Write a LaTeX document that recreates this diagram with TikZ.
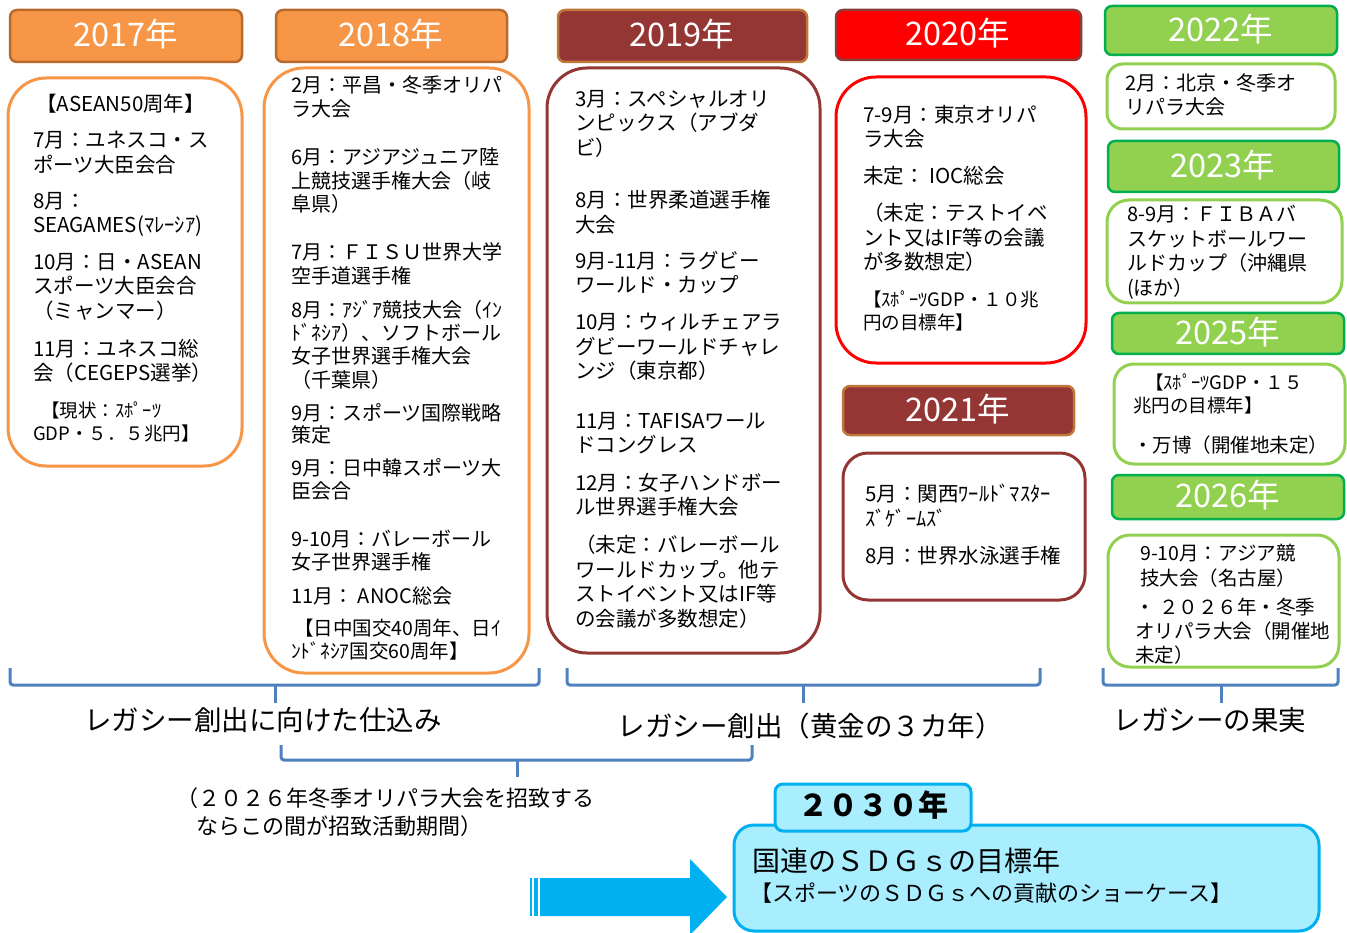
\documentclass[tikz,border=0pt]{standalone}
\usepackage{fontspec}
\setmainfont{Noto Sans CJK JP}
\definecolor{orfill}{HTML}{F79646}
\definecolor{orborder}{HTML}{B86A2D}
\definecolor{dkred}{HTML}{943634}
\definecolor{brnborder}{HTML}{C0783A}
\definecolor{redborder}{HTML}{8C3A3A}
\definecolor{grfill}{HTML}{92D050}
\definecolor{grborder}{HTML}{00B050}
\definecolor{braceblue}{HTML}{4F81BD}
\definecolor{cyanfill}{HTML}{A8EEFF}
\definecolor{cyanline}{HTML}{00B0F0}
\begin{document}
\begin{tikzpicture}[x=1pt,y=-1pt,
  hdr/.style={line width=2.5pt,rounded corners=7pt},
  hdrtext/.style={text=white,inner sep=0pt,font=\fontsize{32.5}{34}\selectfont},
  cbox/.style={line width=3pt,fill=white},
  txt/.style={anchor=north west,align=left,inner sep=0pt,text=black,font=\fontsize{20.5}{24.5}\selectfont},
  smtxt/.style={txt,font=\fontsize{18.5}{23}\selectfont},
  bracestyle/.style={draw=braceblue,line width=3pt,rounded corners=3pt},
  lbl/.style={inner sep=0pt,text=black,font=\fontsize{27.5}{30}\selectfont}]
\useasboundingbox (0,0) rectangle (1347,933);

% ---------- headers ----------
\draw[hdr,fill=orfill,draw=orborder] (10,10) rectangle (242,62);
\node[hdrtext] (h17) at (126,34) {2017年};
\draw[hdr,fill=orfill,draw=orborder] (276,10) rectangle (507,62);
\node[hdrtext] (h18) at (391,34) {2018年};
\draw[hdr,fill=dkred,draw=brnborder] (558,10) rectangle (807,62);
\node[hdrtext] (h19) at (682,34) {2019年};
\draw[hdr,fill=red,draw=redborder] (836,10) rectangle (1081,60);
\node[hdrtext] (h20) at (958,33) {2020年};
\draw[hdr,fill=dkred,draw=brnborder] (843,386) rectangle (1074,435);
\node[hdrtext] (h21) at (958,409) {2021年};
\draw[hdr,fill=grfill,draw=grborder] (1105,6) rectangle (1337,55);
\node[hdrtext] (h22) at (1221,29) {2022年};
\draw[hdr,fill=grfill,draw=grborder] (1108,141) rectangle (1339,192);
\node[hdrtext] (h23) at (1223,165) {2023年};
\draw[hdr,fill=grfill,draw=grborder] (1112,313) rectangle (1344,354);
\node[hdrtext] (h25) at (1228,332) {2025年};
\draw[hdr,fill=grfill,draw=grborder] (1112,475) rectangle (1344,519);
\node[hdrtext] (h26) at (1228,495) {2026年};

% ---------- content boxes ----------
\draw[cbox,draw=orfill,rounded corners=38pt] (8,78) rectangle (242,466);
\draw[cbox,draw=orfill,rounded corners=40pt] (264,68) rectangle (529,673);
\draw[cbox,draw=dkred,rounded corners=40pt] (547,68) rectangle (820,653);
\draw[cbox,draw=red,rounded corners=40pt] (836,77) rectangle (1086,363);
\draw[cbox,draw=dkred,rounded corners=25pt] (843,453) rectangle (1085,600);
\draw[cbox,draw=grfill,rounded corners=16pt] (1107,64) rectangle (1335,129);
\draw[cbox,draw=grfill,rounded corners=22pt] (1107,200) rectangle (1342,303);
\draw[cbox,draw=grfill,rounded corners=20pt] (1114,364) rectangle (1345,464);
\draw[cbox,draw=grfill,rounded corners=22pt] (1108,535) rectangle (1339,667);

% ---------- 2017 ----------
\node[txt] (t17a) at (36,94) {【ASEAN50周年】};
\node[txt] (t17b) at (33,131) {7月：ユネスコ・ス\\ポーツ大臣会合};
\node[txt] (t17c) at (33,192) {8月：\\SEAGAMES(ﾏﾚｰｼｱ)};
\node[txt] (t17d) at (33,253) {10月：日・ASEAN\\スポーツ大臣会合\\（ミャンマー）};
\node[txt] (t17e) at (33,339) {11月：ユネスコ総\\会（CEGEPS選挙）};
\node[smtxt] (t17f) at (33,402) {\hspace{8pt}【現状：ｽﾎﾟｰﾂ\\GDP・５．５兆円】};

% ---------- 2018 ----------
\node[txt,font=\fontsize{20}{24}\selectfont] (t18a) at (291,75) {2月：平昌・冬季オリパ\\ラ大会};
\node[txt,font=\fontsize{20}{23.5}\selectfont] (t18b) at (291,148) {6月：アジアジュニア陸\\上競技選手権大会（岐\\阜県）};
\node[txt,font=\fontsize{20}{24}\selectfont] (t18c) at (291,242) {7月：ＦＩＳＵ世界大学\\空手道選手権};
\node[txt,font=\fontsize{20}{23.3}\selectfont] (t18d) at (291,300) {8月：ｱｼﾞｱ競技大会（ｲﾝ\\ﾄﾞﾈｼｱ）、ソフトボール\\女子世界選手権大会\\（千葉県）};
\node[txt,font=\fontsize{20}{22.5}\selectfont] (t18e) at (291,403) {9月：スポーツ国際戦略\\策定};
\node[txt,font=\fontsize{20}{23}\selectfont] (t18f) at (291,458) {9月：日中韓スポーツ大\\臣会合};
\node[txt,font=\fontsize{20}{23}\selectfont] (t18g) at (291,530) {9-10月：バレーボール\\女子世界選手権};
\node[txt,font=\fontsize{20}{23}\selectfont] (t18h) at (291,586) {11月： ANOC総会};
\node[txt,font=\fontsize{19.5}{23}\selectfont] (t18i) at (291,619) {\hspace{3pt}【日中国交40周年、日ｲ\\ﾝﾄﾞﾈｼｱ国交60周年】};

% ---------- 2019 ----------
\node[txt] (t19a) at (575,90) {3月：スペシャルオリ\\ンピックス（アブダ\\ビ）};
\node[txt] (t19b) at (575,190) {8月：世界柔道選手権\\大会};
\node[txt] (t19c) at (575,251) {9月-11月：ラグビー\\ワールド・カップ};
\node[txt] (t19d) at (575,313) {10月：ウィルチェアラ\\グビーワールドチャレ\\ンジ（東京都）};
\node[txt] (t19e) at (575,412) {11月：TAFISAワール\\ドコングレス};
\node[txt] (t19f) at (575,473) {12月：女子ハンドボー\\ル世界選手権大会};
\node[txt] (t19g) at (575,535) {（未定：バレーボール\\ワールドカップ。他テ\\ストイベント又はIF等\\の会議が多数想定）};

% ---------- 2020 ----------
\node[txt] (t20a) at (863,105) {7-9月：東京オリパ\\ラ大会};
\node[txt] (t20b) at (863,166) {未定： IOC総会};
\node[txt] (t20c) at (863,203) {（未定：テストイベ\\ント又はIF等の会議\\が多数想定）};
\node[smtxt] (t20d) at (863,291) {【ｽﾎﾟｰﾂGDP・１０兆\\円の目標年】};

% ---------- 2021 ----------
\node[txt] (t21a) at (865,484) {5月：関西ﾜｰﾙﾄﾞﾏｽﾀｰ\\ｽﾞｹﾞｰﾑｽﾞ};
\node[txt] (t21b) at (865,546) {8月：世界水泳選手権};

% ---------- 2022-2026 ----------
\node[txt,font=\fontsize{20}{24}\selectfont] (t22) at (1125,73) {2月：北京・冬季オ\\リパラ大会};
\node[txt,font=\fontsize{20}{24.5}\selectfont] (t23) at (1127,205) {8-9月：ＦＩＢＡバ\\スケットボールワー\\ルドカップ（沖縄県\\(ほか）};
\node[smtxt] (t25a) at (1133,374) {\hspace{12pt}【ｽﾎﾟｰﾂGDP・１５\\兆円の目標年】};
\node[txt,font=\fontsize{19.5}{24}\selectfont] (t25b) at (1133,436) {・万博（開催地未定）};
\node[txt,font=\fontsize{19.5}{24.5}\selectfont] (t26a) at (1140,544) {9-10月：アジア競\\技大会（名古屋）};
\node[txt,font=\fontsize{19.5}{24}\selectfont] (t26b) at (1135,598) {・ ２０２６年・冬季\\オリパラ大会（開催地\\未定）};

% ---------- braces ----------
\draw[bracestyle] (10,668) -- (10,685) -- (539,685) -- (539,668);
\draw[bracestyle] (275,685) -- (275,703);
\draw[bracestyle] (567,668) -- (567,685) -- (1040,685) -- (1040,668);
\draw[bracestyle] (803,685) -- (803,703);
\draw[bracestyle] (1103,668) -- (1103,685) -- (1338,685) -- (1338,668);
\draw[bracestyle] (1221,685) -- (1221,703);
\draw[bracestyle] (281,745) -- (281,760) -- (752,760) -- (752,745);
\draw[bracestyle] (517,760) -- (517,777);

\node[lbl] (L1) at (263,720) {レガシー創出に向けた仕込み};
\node[lbl] (L2) at (810,726) {レガシー創出（黄金の３カ年）};
\node[lbl] (L3) at (1210,720) {レガシーの果実};
\node[anchor=north west,align=left,inner sep=0pt,font=\fontsize{22}{28}\selectfont] (note) at (176,787) {（２０２６年冬季オリパラ大会を招致する\\\hspace{20pt}ならこの間が招致活動期間）};

% ---------- arrow ----------
\fill[cyanline] (530,878) rectangle (532,916);
\fill[cyanline] (534,878) rectangle (538,916);
\fill[cyanline] (540,878) -- (690,878) -- (690,859) -- (727,897) -- (690,935) -- (690,916) -- (540,916) -- cycle;

% ---------- 2030 ----------
\draw[line width=3pt,draw=cyanline,fill=cyanfill,rounded corners=20pt] (734,825) rectangle (1319,931);
\draw[line width=3pt,draw=cyanline,fill=cyanfill,rounded corners=8pt] (775,784) rectangle (971,831);
\node[inner sep=0pt,font=\fontsize{30}{32}\bfseries\selectfont] (y2030) at (873,805) {２０３０年};
\node[anchor=west,inner sep=0pt,font=\fontsize{28}{30}\selectfont] (sdg1) at (752,861) {国連のＳＤＧｓの目標年};
\node[anchor=west,inner sep=0pt,font=\fontsize{22}{24}\selectfont] (sdg2) at (750,893) {【スポーツのＳＤＧｓへの貢献のショーケース】};
\end{tikzpicture}
\end{document}
